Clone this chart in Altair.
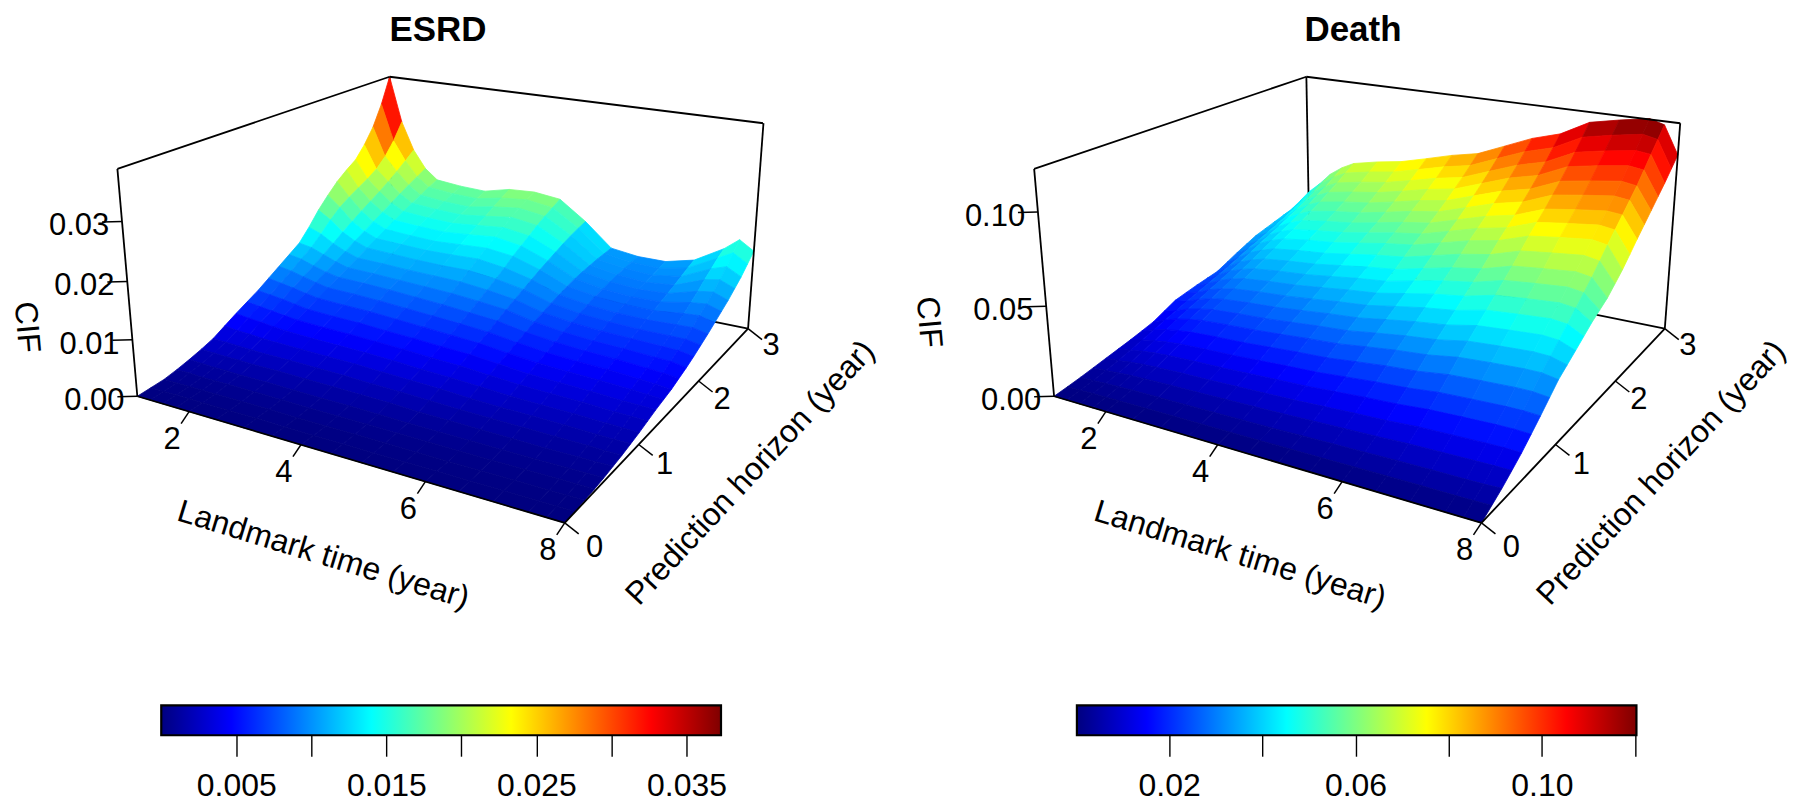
import altair as alt
import numpy as np
import pandas as pd

FONT = "Liberation Sans"
LANDMARK = [1, 1.25, 1.5, 1.75, 2, 2.5, 3, 3.5, 4, 4.5, 5, 5.5, 6, 6.5, 7, 7.5, 7.75, 8]
HORIZON = [0, .125, .25, .375, .5, .625, .75, .875, 1, 1.125, 1.25, 1.375, 1.5, 1.625, 1.75, 1.875,
           2, 2.125, 2.25, 2.375, 2.5, 2.625, 2.75, 2.875, 3]

# CIF: one list per landmark time, one value per horizon
ESRD_Z = [
    [0, .0002, .0004, .0009, .0015, .0022, .003, .0042, .0054, .0065, .0076, .0089, .0102, .0115, .0128, .015, .0175, .0196, .0215, .023, .0243, .0266, .0295, .0335, .0385],
    [0, .0002, .0004, .0009, .0014, .0021, .0029, .0039, .0051, .0062, .0073, .0085, .0098, .0111, .0124, .0141, .016, .0176, .0188, .0198, .0208, .022, .0238, .0263, .0295],
    [0, .0002, .0004, .0008, .0013, .002, .0028, .0038, .0049, .0059, .007, .0081, .0092, .0103, .0115, .0127, .014, .0152, .0164, .0175, .0186, .0198, .0211, .0225, .024],
    [0, .0002, .0004, .0008, .0013, .002, .0027, .0036, .0046, .0056, .0066, .0076, .0086, .0096, .0106, .0116, .0127, .0137, .0147, .0157, .0167, .0177, .0187, .0196, .0205],
    [0, .0002, .0004, .0008, .0012, .0019, .0026, .0035, .0044, .0053, .0062, .0072, .0081, .0091, .0099, .0108, .0118, .0127, .0136, .0145, .0154, .0162, .017, .0178, .0185],
    [0, .0002, .0004, .0008, .0012, .0019, .0026, .0034, .0042, .0051, .006, .007, .008, .009, .0098, .0107, .0116, .0125, .0133, .0142, .015, .0158, .0165, .0173, .018],
    [0, .0002, .0004, .0007, .0011, .0018, .0025, .0033, .0041, .005, .0059, .0069, .0078, .0088, .0096, .0105, .0114, .0123, .0131, .014, .0148, .0156, .0163, .0171, .0178],
    [0, .0001, .0003, .0006, .001, .0017, .0024, .0032, .004, .0048, .0056, .0066, .0075, .0085, .0094, .0104, .0113, .0124, .0134, .0144, .0153, .0162, .0172, .0181, .019],
    [0, .0001, .0003, .0006, .001, .0016, .0022, .003, .0038, .0046, .0054, .0063, .0072, .0082, .0092, .0103, .0114, .0126, .0137, .0149, .0158, .0169, .0178, .0186, .0193],
    [0, .0001, .0003, .0006, .0009, .0015, .0021, .0028, .0035, .0043, .0051, .006, .0069, .0078, .0088, .0098, .0108, .0119, .0131, .0141, .0151, .0162, .0171, .0179, .0187],
    [0, .0001, .0003, .0005, .0008, .0013, .0019, .0026, .0033, .0041, .0049, .0057, .0065, .0074, .0083, .0091, .0099, .0107, .0115, .0122, .0129, .0136, .0142, .0147, .0151],
    [0, .0001, .0002, .0005, .0007, .0012, .0017, .0023, .003, .0037, .0044, .0051, .0058, .0065, .0072, .0078, .0084, .0089, .0094, .0098, .0101, .0103, .0105, .0106, .0107],
    [0, .0001, .0002, .0004, .0007, .0011, .0016, .0021, .0027, .0033, .0039, .0046, .0052, .0059, .0065, .0071, .0076, .0081, .0086, .0089, .0092, .0095, .0097, .0099, .01],
    [0, .0001, .0002, .0004, .0006, .001, .0015, .002, .0025, .0031, .0037, .0043, .0049, .0055, .0061, .0067, .0072, .0077, .0082, .0085, .0088, .0091, .0094, .0097, .01],
    [0, .0001, .0002, .0004, .0006, .0009, .0014, .0019, .0024, .003, .0035, .0041, .0047, .0053, .0059, .0065, .007, .0076, .0081, .0086, .0091, .0096, .0102, .0108, .0113],
    [0, .0001, .0002, .0004, .0006, .0009, .0013, .0017, .0022, .0027, .0032, .0038, .0043, .0049, .0056, .0063, .007, .0078, .0087, .0096, .0106, .0117, .0127, .0137, .0145],
    [0, .0001, .0002, .0004, .0006, .0009, .0012, .0016, .0021, .0026, .0031, .0036, .0041, .0047, .0055, .0062, .007, .0079, .0089, .0099, .011, .0122, .0136, .0152, .0167],
    [0, .0001, .0002, .0004, .0006, .0009, .0012, .0016, .002, .0025, .003, .0034, .0038, .0044, .005, .0057, .0065, .0073, .0082, .0091, .01, .0111, .0122, .0136, .015],
]
DEATH_Z = [
    [0, .0012, .0025, .004, .0055, .007, .0085, .0102, .012, .015, .018, .0193, .0205, .0215, .0225, .0252, .028, .0305, .033, .0345, .036, .0375, .039, .0418, .045],
    [0, .0013, .0027, .0044, .0062, .0083, .0105, .0127, .015, .0171, .0193, .0213, .0234, .0254, .0275, .0298, .0322, .0343, .0364, .0387, .041, .0436, .0463, .0491, .052],
    [0, .0015, .003, .005, .0072, .0096, .012, .0147, .0174, .0198, .0222, .0246, .027, .0294, .0318, .0345, .0372, .0396, .042, .0447, .0474, .0504, .0534, .0567, .06],
    [0, .0016, .0033, .0055, .0079, .0105, .0131, .016, .019, .0216, .0242, .0268, .0295, .0321, .0347, .0376, .0406, .0432, .0459, .0488, .0517, .055, .0583, .0619, .0655],
    [0, .0017, .0035, .0058, .0083, .0111, .0139, .017, .0202, .023, .0257, .0285, .0313, .034, .0368, .04, .0431, .0459, .0487, .0518, .0549, .0584, .0619, .0657, .0695],
    [0, .0018, .0037, .0062, .0088, .0117, .0146, .0179, .0212, .0241, .027, .03, .0329, .0358, .0387, .042, .0453, .0482, .0511, .0544, .0577, .0613, .065, .069, .073],
    [0, .0019, .0038, .0064, .0091, .0121, .0151, .0185, .022, .025, .028, .0311, .0341, .0371, .0401, .0435, .0469, .05, .053, .0564, .0598, .0636, .0674, .0715, .0757],
    [0, .002, .004, .0068, .0096, .0128, .016, .0196, .0232, .0264, .0296, .0328, .036, .0392, .0424, .046, .0496, .0528, .056, .0596, .0632, .0672, .0712, .0756, .08],
    [0, .0021, .0042, .0071, .0101, .0135, .0169, .0207, .0245, .0279, .0313, .0346, .038, .0414, .0448, .0486, .0524, .0558, .0592, .063, .0668, .071, .0752, .0798, .0845],
    [0, .0022, .0044, .0075, .0106, .0141, .0176, .0215, .0255, .029, .0326, .0361, .0396, .0431, .0466, .0506, .0546, .0581, .0616, .0655, .0695, .0739, .0783, .0831, .088],
    [0, .0024, .0048, .0081, .0114, .0152, .019, .0233, .0276, .0314, .0352, .039, .0428, .0466, .0504, .0546, .0589, .0627, .0665, .0708, .0751, .0798, .0846, .0898, .095],
    [0, .0025, .0051, .0086, .0122, .0163, .0204, .025, .0296, .0336, .0377, .0418, .0459, .05, .0541, .0586, .0632, .0673, .0714, .076, .0806, .0857, .0908, .0964, .102],
    [0, .0027, .0054, .0091, .0128, .0171, .0214, .0262, .031, .0353, .0396, .0439, .0482, .0525, .0567, .0615, .0663, .0706, .0749, .0797, .0845, .0898, .0952, .1011, .107],
    [0, .0029, .0058, .0098, .0139, .0185, .0232, .0284, .0336, .0383, .0429, .0476, .0522, .0569, .0615, .0667, .0719, .0766, .0812, .0864, .0916, .0974, .1032, .1096, .116],
    [0, .003, .006, .0101, .0143, .0191, .0239, .0293, .0347, .0395, .0442, .049, .0538, .0586, .0633, .0687, .0741, .0789, .0837, .089, .0944, .1004, .1064, .113, .1195],
    [0, .003, .0061, .0104, .0147, .0196, .0245, .03, .0355, .0404, .0453, .0502, .0551, .06, .0649, .0705, .076, .0809, .0858, .0913, .0968, .1029, .109, .1158, .1225],
    [0, .0031, .0062, .0105, .0148, .0196, .0245, .03, .0355, .04, .0445, .0492, .054, .0587, .0635, .069, .0745, .0797, .085, .0902, .0955, .1017, .108, .114, .12],
    [0, .0033, .0066, .0105, .0145, .0192, .024, .029, .034, .0375, .041, .0446, .0482, .0511, .054, .0582, .0625, .0677, .073, .078, .083, .088, .093, .0985, .104],
]
LANDMARK_TICKS = [2, 4, 6, 8]
HORIZON_TICKS = [0, 1, 2, 3]
ESRD_Z_TICKS = [0.0, 0.01, 0.02, 0.03]
DEATH_Z_TICKS = [0.0, 0.05, 0.10]
ESRD_BAR_TICKS = [.005, .01, .015, .02, .025, .03, .035]
ESRD_BAR_LABELS = ['0.005', '0.015', '0.025', '0.035']
DEATH_BAR_TICKS = [.02, .04, .06, .08, .10, .12]
DEATH_BAR_LABELS = ['0.02', '0.06', '0.10']
JET = ['#00007F', '#0000FF', '#007FFF', '#00FFFF', '#7FFF7F', '#FFFF00', '#FF7F00', '#FF0000', '#7F0000']

# View calibration: where known box points fall on the page (x, horizon, z fraction) -> pixel
CAL = [
    (1, 0, 0, 137.8, 396), (1, 0, 1, 117.7, 168.3), (1, 3, 1, 390.4, 76), (8, 3, 1, 765.2, 122.7),
    (8, 3, 0, 749, 328.3), (8, 0, 0, 565.4, 522.3), (2, 0, 0, 189.4, 411.7), (4, 0, 0, 301.4, 445),
    (6, 0, 0, 426.5, 482.3), (8, 1, 0, 640, 445), (8, 2, 0, 701.5, 381),
]
A = []
b = []
for X, Y, Z, u, v in CAL:
    A.append([X, Y, Z, 1, 0, 0, 0, 0, -u * X, -u * Y, -u * Z]); b.append(u)
    A.append([0, 0, 0, 0, X, Y, Z, 1, -v * X, -v * Y, -v * Z]); b.append(v)
P = np.linalg.lstsq(np.array(A, float), np.array(b, float), rcond=None)[0]


def project(x, h, zf):
    w = P[8] * x + P[9] * h + P[10] * zf + 1
    return (P[0] * x + P[1] * h + P[2] * zf + P[3]) / w, (P[4] * x + P[5] * h + P[6] * zf + P[7]) / w


TOP_PAD = 4
TITLE_SIZE = 35
TOP_Y = 8 + TOP_PAD + TITLE_SIZE + 2


def panel(title, Z, ztop, cdomain, zticks, zfmt, dx, x0, x1, title_dx, cif_xy, pred_x):
    ys = alt.Scale(domain=[700, TOP_Y], nice=False, zero=False)
    xs = alt.Scale(domain=[x0, x1], nice=False, zero=False)
    X = alt.X('x:Q', scale=xs, axis=None)
    Y = alt.Y('y:Q', scale=ys, axis=None)
    stops = [float(s) for s in np.linspace(cdomain[0], cdomain[1], len(JET))]
    cs = alt.Scale(domain=stops, range=JET, interpolate='rgb', clamp=True)

    rows = []
    cell = 0
    for j in range(len(HORIZON) - 2, -1, -1):
        for i in range(len(LANDMARK) - 1):
            quad = [(i, j + 1), (i + 1, j + 1), (i + 1, j), (i, j)]
            m = float(np.mean([Z[a][c] for a, c in quad]))
            for k, (a, c) in enumerate(quad):
                px, py = project(LANDMARK[a], HORIZON[c], Z[a][c] / ztop)
                rows.append(dict(cell=cell, v=k, x=float(px + dx), y=float(py), z=m))
            cell += 1
    surf = alt.Chart(pd.DataFrame(rows)).mark_line(interpolate='linear-closed', strokeWidth=0.8).encode(
        x=X, y=Y, detail='cell:N', order='v:Q',
        fill=alt.Fill('z:Q', scale=cs, legend=None),
        stroke=alt.Stroke('z:Q', scale=cs, legend=None))

    def seg(p, q):
        a_ = project(*p)
        b_ = project(*q)
        return dict(x=float(a_[0] + dx), y=float(a_[1]), x2=float(b_[0] + dx), y2=float(b_[1]))

    def rules(segs, width):
        return alt.Chart(pd.DataFrame(segs)).mark_rule(color='black', strokeWidth=width).encode(
            x=X, y=Y, x2='x2:Q', y2='y2:Q')

    back = rules([seg((1, 3, 0), (8, 3, 0)), seg((1, 3, 0), (1, 3, 1))], 1.8)
    frame = rules([seg((1, 0, 0), (1, 0, 1)), seg((1, 0, 1), (1, 3, 1)), seg((1, 3, 1), (8, 3, 1)),
                   seg((8, 3, 1), (8, 3, 0)), seg((1, 0, 0), (8, 0, 0)), seg((8, 0, 0), (8, 3, 0))], 1.8)

    tick_rows, label_rows = [], []
    for t in LANDMARK_TICKS:
        u, v = project(t, 0, 0)
        tick_rows.append(dict(x=float(u + dx), y=float(v), x2=float(u + dx - 8), y2=float(v + 12)))
        label_rows.append(dict(x=float(u + dx - 17), y=float(v + 28), t=str(t)))
    for t, (ox, oy) in zip(HORIZON_TICKS, [(30, 25), (26, 21), (23.5, 19), (23, 17)]):
        u, v = project(8, t, 0)
        tick_rows.append(dict(x=float(u + dx), y=float(v), x2=float(u + dx + 14), y2=float(v + 11)))
        label_rows.append(dict(x=float(u + dx + ox), y=float(v + oy), t=str(t)))
    for t in zticks:
        u, v = project(1, 0, t / ztop)
        tick_rows.append(dict(x=float(u + dx), y=float(v), x2=float(u + dx - 20), y2=float(v + 0.5)))
        label_rows.append(dict(x=float(u + dx - 43), y=float(v + 5), t=format(t, zfmt)))
    ticks = rules(tick_rows, 1.5)
    labels = alt.Chart(pd.DataFrame(label_rows)).mark_text(
        font=FONT, fontSize=31, color='black', align='center', baseline='middle').encode(x=X, y=Y, text='t:N')

    titles = [
        dict(x=324 + dx, y=555, t='Landmark time (year)', a=17),
        dict(x=pred_x, y=473, t='Prediction horizon (year)', a=313),
        dict(x=cif_xy[0], y=cif_xy[1], t='CIF', a=85),
    ]
    axis_titles = []
    for r in titles:
        axis_titles.append(alt.Chart(pd.DataFrame([r])).mark_text(
            font=FONT, fontSize=32, color='black', align='center', baseline='middle', angle=r['a']).encode(
            x=X, y=Y, text='t:N'))

    return alt.layer(back, surf, frame, ticks, labels, *axis_titles).properties(
        width=x1 - x0, height=700 - TOP_Y,
        title=alt.Title(title, font=FONT, fontSize=TITLE_SIZE, fontWeight='bold', anchor='middle', dx=title_dx, offset=2))


def colorbar(vmin, vmax, px0, px1, x0, x1, ticks, shown):
    k = (vmax - vmin) / (px1 - px0)
    dom = [vmin + (x0 - px0) * k, vmin + (x1 - px0) * k]
    grad = {"gradient": "linear", "x1": 0, "x2": 1, "y1": 0, "y2": 0,
            "stops": [{"offset": i / (len(JET) - 1), "color": c} for i, c in enumerate(JET)]}
    shown_js = '[' + ','.join("'%s'" % s for s in shown) + ']'
    fmt = '.3f' if len(shown[0]) == 5 else '.2f'
    lab = "indexof(%s, format(datum.value,'%s'))>=0 ? format(datum.value,'%s') : ''" % (shown_js, fmt, fmt)
    return alt.Chart(pd.DataFrame({'a': [vmin], 'b': [vmax]})).mark_rect(
        fill=grad, stroke='black', strokeWidth=2.2).encode(
        x=alt.X('a:Q', scale=alt.Scale(domain=dom, nice=False, zero=False), title=None,
                axis=alt.Axis(values=ticks, labelExpr=lab, tickSize=21, tickWidth=1.4, tickColor='black',
                              domain=False, grid=False, labelFontSize=32, labelFont=FONT, labelColor='black',
                              labelBaseline='alphabetic', labelPadding=39, labelOverlap=False,
                              labelBound=False, labelFlush=False)),
        x2='b:Q').properties(width=x1 - x0, height=30)


DX = 918.8
esrd = panel('ESRD', ESRD_Z, 0.0385, (0.0, 0.0374), ESRD_Z_TICKS, '.2f', 0, 8, 898, -14, (27, 327), 752)
death = panel('Death', DEATH_Z, 0.122, (0.0002, 0.1203), DEATH_Z_TICKS, '.2f', DX, 898, 1788, 13, (931, 322), 1665)
cb1 = colorbar(0.0, 0.0373, 161.6, 722.6, 8, 898, ESRD_BAR_TICKS, ESRD_BAR_LABELS)
cb2 = colorbar(0.0002, 0.1203, 1079.3, 1640.1, 898, 1788, DEATH_BAR_TICKS, DEATH_BAR_LABELS)

top = alt.hconcat(esrd, death, spacing=0).resolve_scale(fill='independent', stroke='independent')
bottom = alt.hconcat(cb1, cb2, spacing=0)
chart = alt.vconcat(top, bottom, spacing=4).properties(
    padding={'left': 0, 'right': 0, 'top': TOP_PAD, 'bottom': 0}, background='white').configure_view(stroke=None)
chart.save("out.html", embed_options={"renderer": "svg", "actions": False})
